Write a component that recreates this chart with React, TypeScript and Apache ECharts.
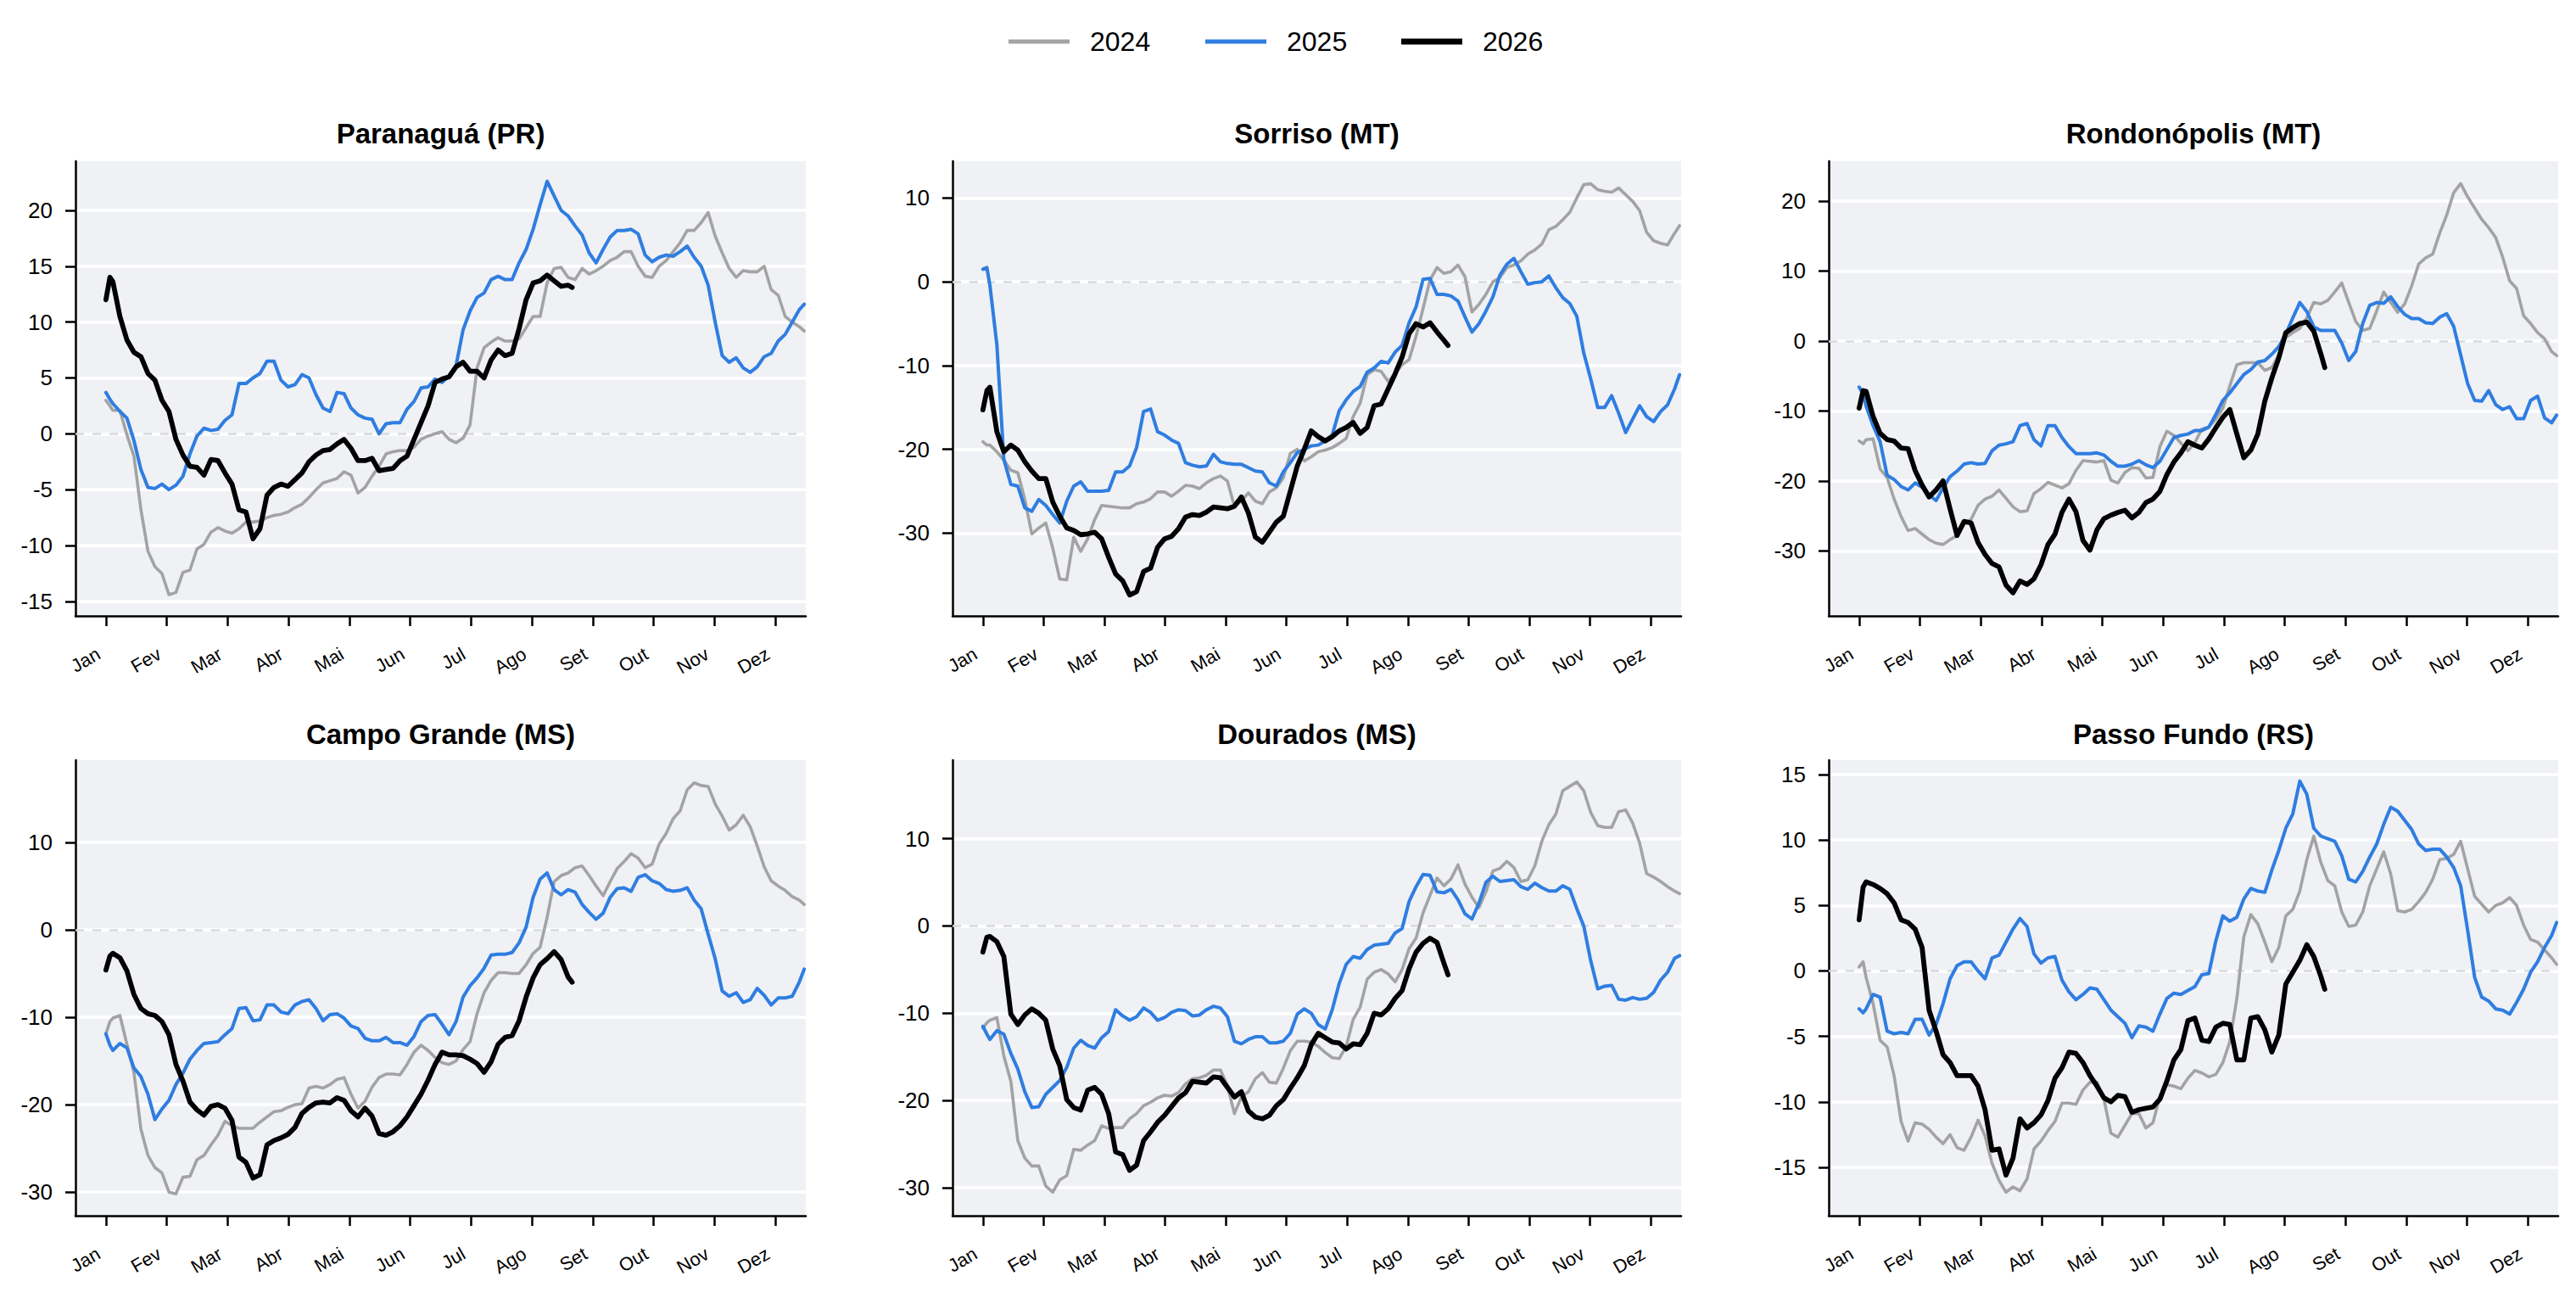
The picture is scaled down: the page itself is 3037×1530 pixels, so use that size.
import React, { useEffect, useRef } from "react";
import * as echarts from "echarts";

// ---------- DATA ----------
const MONTHS = ["Jan", "Fev", "Mar", "Abr", "Mai", "Jun", "Jul", "Ago", "Set", "Out", "Nov", "Dez"];
const LEGEND_NAMES = ["2024", "2025", "2026"];

const DAYS = [0, 2, 3.5, 7, 10.5, 14, 17.5, 21, 24.5, 28, 31.5, 35, 38.5, 42, 45.5, 49, 52.5, 56, 59.5, 63, 66.5, 70, 73.5, 77, 80.5, 84, 87.5, 91, 94.5, 98, 101.5, 105, 108.5, 112, 115.5, 119, 122.5, 126, 129.5, 133, 136.5, 140, 143.5, 147, 150.5, 154, 157.5, 161, 164.5, 168, 171.5, 175, 178.5, 182, 185.5, 189, 192.5, 196, 199.5, 203, 206.5, 210, 213.5, 217, 220.5, 224, 227.5, 231, 234.5, 238, 241.5, 245, 248.5, 252, 255.5, 259, 262.5, 266, 269.5, 273, 276.5, 280, 283.5, 287, 290.5, 294, 297.5, 301, 304.5, 308, 311.5, 315, 318.5, 322, 325.5, 329, 332.5, 336, 339.5, 343, 346.5, 349];
const DAYS_2026 = [0, 2, 3.5, 7, 10.5, 14, 17.5, 21, 24.5, 28, 31.5, 35, 38.5, 42, 45.5, 49, 52.5, 56, 59.5, 63, 66.5, 70, 73.5, 77, 80.5, 84, 87.5, 91, 94.5, 98, 101.5, 105, 108.5, 112, 115.5, 119, 122.5, 126, 129.5, 133, 136.5, 140, 143.5, 147, 150.5, 154, 157.5, 161, 164.5, 168, 171.5, 175, 178.5, 182, 185.5, 189, 192.5, 196, 199.5, 203, 206.5, 210, 213.5, 217, 220.5, 224, 227.5, 231, 233];

const TITLES = ["Paranaguá (PR)", "Sorriso (MT)", "Rondonópolis (MT)", "Campo Grande (MS)", "Dourados (MS)", "Passo Fundo (RS)"];

const Y_MIN = [-16.3, -39.9, -39.3, -32.7, -33.2, -18.7];
const Y_MAX = [24.4, 14.4, 25.7, 19.4, 19.0, 16.1];
const Y_STEP = [5, 10, 10, 10, 10, 5];
const Y_TICKS = [
  [-15, -10, -5, 0, 5, 10, 15, 20],
  [-30, -20, -10, 0, 10],
  [-30, -20, -10, 0, 10, 20],
  [-30, -20, -10, 0, 10],
  [-30, -20, -10, 0, 10],
  [-15, -10, -5, 0, 5, 10, 15],
];

const PARANAGUA_2024 = [
  3.0, 2.5, 2.1, 2.1, -0.1, -2.0, -6.8, -10.5, -11.9, -12.5,
  -14.4, -14.2, -12.4, -12.2, -10.3, -9.9, -8.8, -8.4, -8.7, -8.9,
  -8.5, -7.9, -7.9, -7.8, -7.5, -7.3, -7.2, -7.0, -6.6, -6.3,
  -5.7, -5.0, -4.4, -4.2, -4.0, -3.4, -3.7, -5.3, -4.8, -3.8,
  -2.9, -1.8, -1.6, -1.5, -1.5, -1.2, -0.5, -0.2, 0.0, 0.2,
  -0.5, -0.8, -0.4, 0.8, 5.9, 7.7, 8.2, 8.6, 8.3, 8.3,
  8.5, 9.5, 10.5, 10.5, 13.5, 14.8, 14.9, 14.0, 13.8, 14.8,
  14.3, 14.6, 15.0, 15.5, 15.8, 16.3, 16.3, 15.0, 14.1, 14.0,
  15.0, 15.5, 16.3, 17.1, 18.2, 18.2, 18.9, 19.8, 17.7, 16.2,
  14.8, 14.0, 14.6, 14.5, 14.5, 15.0, 12.9, 12.4, 10.5, 10.0,
  9.6, 9.2];
const PARANAGUA_2025 = [3.7, 3.1, 2.7, 2.0, 1.4, -0.6, -3.2, -4.8, -4.9, -4.5, -5.0, -4.6, -3.8, -1.8, -0.2, 0.5, 0.3, 0.4, 1.2, 1.7, 4.5, 4.5, 5.0, 5.4, 6.5, 6.5, 4.8, 4.2, 4.4, 5.3, 5.0, 3.5, 2.3, 2.0, 3.7, 3.6, 2.3, 1.7, 1.4, 1.3, 0.0, 0.9, 1.0, 1.0, 2.2, 2.9, 4.1, 4.2, 4.9, 4.6, 5.2, 6.1, 9.3, 11.0, 12.2, 12.6, 13.8, 14.1, 13.8, 13.8, 15.3, 16.5, 18.3, 20.5, 22.6, 21.3, 20.0, 19.5, 18.6, 17.8, 16.2, 15.3, 16.5, 17.6, 18.2, 18.2, 18.3, 17.9, 16.0, 15.4, 15.8, 16.0, 15.9, 16.3, 16.8, 15.8, 15.0, 13.3, 10.0, 7.0, 6.4, 6.8, 5.9, 5.5, 6.0, 6.9, 7.2, 8.3, 8.9, 10.0, 11.1, 11.6];
const PARANAGUA_2026 = [12.0, 14.0, 13.6, 10.5, 8.4, 7.3, 6.9, 5.4, 4.8, 3.0, 2.0, -0.5, -1.9, -2.9, -3.0, -3.7, -2.3, -2.4, -3.5, -4.5, -6.8, -7.0, -9.4, -8.5, -5.5, -4.8, -4.5, -4.7, -4.1, -3.5, -2.5, -1.9, -1.5, -1.4, -0.9, -0.5, -1.3, -2.4, -2.4, -2.2, -3.3, -3.2, -3.1, -2.4, -2.0, -0.5, 1.0, 2.5, 4.6, 4.9, 5.1, 6.0, 6.4, 5.6, 5.6, 5.0, 6.6, 7.5, 7.0, 7.2, 9.4, 12.0, 13.5, 13.7, 14.2, 13.7, 13.2, 13.3, 13.1];

const SORRISO_2024 = [
  -19.1, -19.5, -19.5, -20.3, -21.3, -22.5, -22.8, -26.0, -30.1, -29.4,
  -28.8, -31.8, -35.5, -35.6, -30.5, -32.2, -30.7, -28.4, -26.7, -26.8,
  -26.9, -27.0, -27.0, -26.5, -26.3, -25.9, -25.1, -25.1, -25.6, -25.0,
  -24.3, -24.4, -24.7, -24.0, -23.5, -23.2, -23.8, -26.8, -26.2, -25.2,
  -26.2, -26.5, -25.1, -24.6, -23.4, -20.5, -20.0, -21.4, -20.9, -20.3,
  -20.1, -19.8, -19.3, -18.7, -16.1, -14.5, -11.1, -10.5, -10.7, -11.9,
  -11.0, -9.9, -9.3, -6.5, -3.2, 0.2, 1.7, 1.0, 1.2, 2.0,
  0.6, -3.6, -2.7, -1.5, 0.0, 0.5, 1.7, 2.0, 2.5, 3.3,
  3.8, 4.5, 6.2, 6.6, 7.4, 8.3, 10.0, 11.6, 11.7, 11.0,
  10.8, 10.7, 11.2, 10.4, 9.6, 8.5, 5.9, 4.9, 4.6, 4.4,
  5.8, 6.7];
const SORRISO_2025 = [1.5, 1.7, -0.4, -7.5, -21.2, -24.2, -24.4, -27.0, -27.4, -26.0, -26.7, -27.8, -28.8, -26.2, -24.4, -23.9, -25.0, -25.0, -25.0, -24.9, -22.7, -22.7, -22.0, -19.8, -15.5, -15.2, -17.9, -18.3, -18.9, -19.3, -21.6, -21.9, -22.1, -22.0, -20.6, -21.5, -21.7, -21.8, -21.8, -22.2, -22.6, -22.7, -24.0, -24.4, -22.7, -21.6, -20.4, -20.0, -19.6, -19.5, -19.0, -18.3, -15.4, -14.1, -13.1, -12.5, -10.8, -10.3, -9.5, -9.7, -8.4, -7.6, -4.9, -3.0, 0.3, 0.4, -1.5, -1.5, -1.7, -2.3, -4.2, -6.0, -5.0, -3.5, -1.8, 0.8, 2.1, 2.8, 1.2, -0.3, -0.1, 0.0, 0.7, -0.7, -1.9, -2.6, -4.1, -8.5, -11.6, -15.0, -15.0, -13.6, -15.7, -18.0, -16.4, -14.8, -16.1, -16.7, -15.5, -14.7, -12.8, -11.1];
const SORRISO_2026 = [-15.3, -13.0, -12.6, -17.9, -20.3, -19.5, -20.1, -21.5, -22.6, -23.5, -23.5, -26.3, -28.0, -29.4, -29.7, -30.2, -30.1, -29.9, -30.7, -32.9, -34.9, -35.7, -37.4, -37.0, -34.6, -34.2, -31.7, -30.7, -30.4, -29.5, -28.1, -27.8, -27.9, -27.5, -26.9, -27.0, -27.1, -26.8, -25.7, -27.6, -30.5, -31.1, -29.9, -28.7, -28.0, -25.0, -22.0, -20.0, -17.8, -18.5, -19.0, -18.5, -17.8, -17.4, -16.8, -18.1, -17.4, -14.8, -14.6, -12.8, -11.0, -9.0, -6.2, -5.0, -5.4, -4.9, -6.0, -7.0, -7.6];

const RONDONOPOLIS_2024 = [
  -14.3, -14.7, -14.1, -14.0, -18.3, -19.5, -22.6, -25.1, -27.1, -26.8,
  -27.6, -28.4, -28.9, -29.1, -28.4, -27.8, -26.2, -25.5, -23.5, -22.6,
  -22.2, -21.3, -22.5, -23.7, -24.4, -24.3, -21.8, -21.1, -20.2, -20.6,
  -21.0, -20.4, -18.5, -17.1, -17.2, -17.3, -17.1, -19.9, -20.3, -18.8,
  -18.1, -18.2, -19.6, -19.5, -15.1, -12.9, -13.5, -14.6, -15.7, -14.5,
  -12.6, -12.3, -11.2, -9.6, -6.4, -3.4, -3.1, -3.1, -3.1, -4.2,
  -3.8, -2.0, 0.5, 1.2, 1.8, 3.3, 5.5, 5.3, 5.8, 7.0,
  8.3, 5.5, 2.8, 1.5, 1.8, 4.3, 7.0, 5.5, 4.1, 5.3,
  7.9, 11.0, 11.9, 12.4, 15.4, 18.0, 21.2, 22.5, 20.6, 19.0,
  17.4, 16.2, 14.8, 12.0, 8.6, 7.5, 3.6, 2.5, 1.2, 0.3,
  -1.5, -2.1];
const RONDONOPOLIS_2025 = [-6.6, -7.6, -9.3, -12.1, -14.4, -19.2, -19.8, -20.8, -21.3, -20.3, -20.9, -22.0, -22.8, -21.0, -19.4, -18.6, -17.6, -17.4, -17.6, -17.5, -15.7, -14.9, -14.7, -14.4, -12.1, -11.8, -14.1, -15.0, -12.1, -12.1, -13.8, -15.1, -16.1, -16.1, -16.1, -16.0, -16.3, -17.2, -17.9, -17.9, -17.6, -17.1, -17.7, -18.1, -17.2, -15.5, -13.8, -13.5, -13.3, -12.8, -12.8, -12.3, -10.5, -8.5, -7.4, -6.1, -4.8, -4.1, -3.0, -2.8, -1.9, -0.8, 1.0, 3.3, 5.5, 4.2, 2.0, 1.5, 1.5, 1.5, -0.3, -2.8, -1.5, 2.5, 5.1, 5.5, 5.4, 6.3, 4.9, 3.8, 3.2, 3.2, 2.6, 2.5, 3.4, 3.9, 2.1, -2.0, -6.1, -8.5, -8.6, -7.1, -9.1, -9.8, -9.4, -11.1, -11.1, -8.5, -7.9, -11.0, -11.7, -10.6];
const RONDONOPOLIS_2026 = [-9.6, -7.1, -7.2, -10.8, -13.2, -14.1, -14.3, -15.3, -15.4, -18.5, -20.6, -22.3, -21.3, -20.0, -24.0, -27.8, -25.8, -26.0, -28.8, -30.5, -31.8, -32.3, -34.9, -36.0, -34.3, -34.8, -34.0, -32.0, -29.1, -27.6, -24.5, -22.6, -24.4, -28.5, -29.9, -27.0, -25.4, -24.9, -24.5, -24.2, -25.3, -24.5, -23.1, -22.6, -21.5, -19.1, -17.3, -16.0, -14.4, -14.9, -15.3, -14.0, -12.4, -10.9, -9.8, -13.3, -16.7, -15.6, -13.3, -8.6, -5.3, -2.4, 1.2, 1.9, 2.5, 2.7, 1.4, -1.8, -3.8];

const CAMPO_GRANDE_2024 = [
  -11.9, -10.5, -10.1, -9.8, -13.1, -16.3, -22.8, -25.8, -27.2, -27.8,
  -30.0, -30.2, -28.3, -28.2, -26.3, -25.8, -24.6, -23.5, -21.9, -22.4,
  -22.7, -22.7, -22.7, -22.0, -21.4, -20.8, -20.7, -20.3, -20.0, -19.9,
  -18.1, -17.9, -18.1, -17.7, -17.1, -16.9, -18.8, -20.4, -19.6, -18.0,
  -16.9, -16.5, -16.5, -16.6, -15.4, -14.0, -13.2, -13.8, -14.6, -15.2,
  -15.4, -15.0, -13.7, -12.8, -9.6, -7.2, -5.8, -4.9, -4.9, -5.0,
  -5.0, -4.0, -2.7, -2.0, 1.4, 5.5, 6.2, 6.5, 7.1, 7.3,
  6.2, 5.0, 3.9, 5.5, 7.0, 7.8, 8.7, 8.2, 7.1, 7.5,
  9.8, 11.0, 12.7, 13.6, 16.0, 16.8, 16.5, 16.4, 14.4, 13.0,
  11.4, 12.0, 13.1, 11.8, 9.6, 7.2, 5.6, 5.0, 4.5, 3.8,
  3.4, 2.9];
const CAMPO_GRANDE_2025 = [-11.9, -13.2, -13.8, -13.0, -13.5, -15.8, -16.8, -18.8, -21.7, -20.5, -19.5, -17.7, -16.4, -14.8, -13.8, -13.0, -12.9, -12.8, -12.0, -11.3, -9.0, -8.9, -10.4, -10.3, -8.6, -8.6, -9.4, -9.6, -8.6, -8.2, -8.0, -9.0, -10.4, -9.7, -9.6, -10.1, -11.0, -11.3, -12.4, -12.7, -12.7, -12.3, -12.9, -12.9, -13.2, -12.2, -10.5, -9.8, -9.7, -10.8, -12.0, -10.5, -7.7, -6.4, -5.5, -4.4, -2.9, -2.8, -2.8, -2.6, -1.5, 0.3, 3.7, 5.8, 6.5, 4.6, 4.0, 4.6, 4.3, 2.9, 2.0, 1.2, 1.9, 3.7, 4.7, 4.8, 4.4, 6.0, 6.3, 5.6, 5.3, 4.6, 4.4, 4.5, 4.8, 3.4, 2.4, -0.5, -3.3, -7.0, -7.6, -7.2, -8.3, -8.0, -6.7, -7.5, -8.6, -7.8, -7.8, -7.6, -6.0, -4.5];
const CAMPO_GRANDE_2026 = [-4.6, -3.0, -2.7, -3.2, -4.7, -7.4, -9.0, -9.6, -9.8, -10.5, -12.0, -15.4, -17.3, -19.7, -20.6, -21.2, -20.2, -20.0, -20.4, -21.8, -26.0, -26.6, -28.4, -28.0, -24.6, -24.1, -23.8, -23.4, -22.6, -21.0, -20.3, -19.8, -19.7, -19.8, -19.2, -19.5, -20.7, -21.4, -20.4, -21.3, -23.3, -23.5, -23.1, -22.4, -21.4, -20.1, -18.8, -17.2, -15.4, -14.0, -14.3, -14.3, -14.4, -14.8, -15.3, -16.3, -15.1, -13.1, -12.3, -12.1, -10.4, -7.7, -5.5, -4.0, -3.3, -2.5, -3.4, -5.4, -6.0];

const DOURADOS_2024 = [
  -11.7, -11.1, -10.8, -10.5, -14.9, -17.8, -24.6, -26.6, -27.5, -27.5,
  -29.8, -30.5, -29.1, -28.6, -25.6, -25.7, -25.1, -24.6, -22.9, -23.2,
  -23.1, -23.1, -22.1, -21.5, -20.6, -20.2, -19.7, -19.4, -19.5, -19.1,
  -18.1, -17.5, -17.4, -17.1, -16.5, -16.5, -18.3, -21.5, -19.6, -19.0,
  -17.5, -16.8, -17.9, -18.0, -16.3, -14.3, -13.2, -13.2, -13.3, -13.8,
  -14.5, -15.1, -15.2, -13.8, -10.7, -9.3, -6.1, -5.3, -5.0, -5.5,
  -6.4, -5.0, -2.6, -1.4, 1.5, 3.5, 5.5, 4.6, 5.4, 7.0,
  4.8, 3.3, 2.1, 3.9, 6.3, 6.6, 7.4, 6.7, 5.1, 5.3,
  6.9, 9.7, 11.6, 12.8, 15.5, 16.0, 16.5, 15.5, 13.0, 11.5,
  11.3, 11.3, 13.1, 13.3, 11.8, 9.5, 6.0, 5.6, 5.1, 4.5,
  4.0, 3.7];
const DOURADOS_2025 = [-11.5, -12.4, -13.0, -12.0, -12.4, -14.6, -16.4, -19.0, -20.8, -20.7, -19.3, -18.5, -17.7, -16.2, -14.0, -13.1, -13.7, -14.0, -12.8, -12.1, -9.6, -10.3, -10.8, -10.4, -9.4, -9.9, -10.8, -10.5, -9.9, -9.6, -9.7, -10.3, -10.2, -9.6, -9.2, -9.4, -10.4, -13.2, -13.5, -13.0, -12.7, -12.7, -13.4, -13.4, -13.2, -12.3, -10.1, -9.5, -10.0, -11.3, -11.8, -9.6, -6.6, -4.4, -3.5, -3.7, -2.7, -2.2, -2.1, -2.0, -0.8, -0.3, 2.8, 4.5, 5.9, 5.8, 3.9, 3.8, 4.2, 3.0, 1.4, 0.8, 2.6, 5.0, 5.7, 5.1, 5.2, 5.3, 4.5, 4.2, 4.9, 4.4, 4.0, 4.0, 4.6, 4.2, 2.0, 0.0, -4.0, -7.2, -6.9, -6.8, -8.4, -8.5, -8.2, -8.4, -8.3, -7.6, -6.2, -5.3, -3.7, -3.4];
const DOURADOS_2026 = [-3.0, -1.3, -1.2, -1.8, -3.5, -10.1, -11.3, -10.2, -9.5, -10.0, -10.8, -14.1, -16.0, -19.9, -20.8, -21.1, -18.8, -18.5, -19.3, -21.5, -25.9, -26.2, -28.0, -27.4, -24.6, -23.6, -22.5, -21.7, -20.7, -19.7, -19.1, -17.8, -17.9, -18.0, -17.3, -17.4, -18.5, -19.6, -19.0, -21.2, -21.9, -22.1, -21.7, -20.6, -19.9, -18.6, -17.4, -16.0, -13.6, -12.3, -12.8, -13.3, -13.4, -14.1, -13.5, -13.6, -12.3, -10.0, -10.2, -9.5, -8.3, -7.4, -4.9, -3.0, -2.0, -1.4, -1.9, -4.3, -5.6];

const PASSO_FUNDO_2024 = [
  0.3, 0.7, -0.5, -2.5, -5.3, -5.8, -8.0, -11.5, -13.0, -11.6,
  -11.7, -12.1, -12.7, -13.2, -12.5, -13.5, -13.7, -12.7, -11.4, -12.6,
  -14.7, -16.0, -16.9, -16.5, -16.8, -15.9, -13.6, -13.0, -12.2, -11.5,
  -10.1, -10.1, -10.2, -9.1, -8.5, -8.5, -9.8, -12.4, -12.7, -11.8,
  -10.9, -10.9, -12.0, -11.6, -9.6, -8.7, -8.8, -9.0, -8.2, -7.6,
  -7.8, -8.1, -7.9, -7.0, -5.4, -2.1, 2.6, 4.3, 3.6, 2.2,
  0.7, 1.8, 4.2, 4.7, 6.1, 8.5, 10.3, 8.3, 6.9, 6.5,
  4.5, 3.4, 3.5, 4.5, 6.5, 7.8, 9.1, 7.4, 4.6, 4.5,
  4.7, 5.3, 6.0, 7.0, 8.5, 8.6, 8.9, 9.9, 7.8, 5.7,
  5.1, 4.5, 5.0, 5.2, 5.6, 5.0, 3.5, 2.4, 2.2, 1.6,
  1.0, 0.5];
const PASSO_FUNDO_2025 = [-2.9, -3.2, -2.9, -1.8, -2.0, -4.6, -4.8, -4.7, -4.8, -3.7, -3.7, -4.9, -4.1, -2.5, -0.6, 0.4, 0.7, 0.7, 0.0, -0.6, 1.0, 1.2, 2.2, 3.2, 4.0, 3.4, 1.3, 0.6, 1.0, 1.1, -0.7, -1.6, -2.2, -1.8, -1.3, -1.4, -2.2, -3.0, -3.5, -4.0, -5.1, -4.2, -4.3, -4.6, -3.3, -2.1, -1.7, -1.8, -1.5, -1.2, -0.3, -0.2, 2.3, 4.2, 3.8, 4.1, 5.5, 6.3, 6.1, 6.0, 7.7, 9.2, 10.9, 12.0, 14.5, 13.5, 10.9, 10.3, 10.1, 9.9, 8.8, 7.0, 6.8, 7.6, 8.7, 9.7, 11.2, 12.5, 12.2, 11.5, 10.8, 9.7, 9.2, 9.3, 9.3, 8.7, 7.9, 6.5, 3.1, -0.5, -2.0, -2.3, -2.9, -3.0, -3.3, -2.4, -1.4, -0.1, 0.7, 1.8, 2.7, 3.7];
const PASSO_FUNDO_2026 = [3.9, 6.4, 6.8, 6.6, 6.3, 5.9, 5.2, 3.9, 3.7, 3.2, 1.8, -3.0, -4.6, -6.4, -7.0, -8.0, -8.0, -8.0, -8.8, -10.6, -13.7, -13.6, -15.6, -14.3, -11.3, -12.0, -11.6, -11.0, -9.9, -8.2, -7.4, -6.2, -6.3, -7.0, -8.0, -8.8, -9.7, -10.0, -9.5, -9.6, -10.8, -10.6, -10.5, -10.4, -9.8, -8.4, -6.8, -6.0, -3.8, -3.6, -5.3, -5.4, -4.3, -4.0, -4.1, -6.8, -6.8, -3.6, -3.5, -4.5, -6.2, -4.9, -1.0, -0.1, 0.8, 2.0, 1.1, -0.4, -1.4];

const SERIES_2024 = [PARANAGUA_2024, SORRISO_2024, RONDONOPOLIS_2024, CAMPO_GRANDE_2024, DOURADOS_2024, PASSO_FUNDO_2024];
const SERIES_2025 = [PARANAGUA_2025, SORRISO_2025, RONDONOPOLIS_2025, CAMPO_GRANDE_2025, DOURADOS_2025, PASSO_FUNDO_2025];
const SERIES_2026 = [PARANAGUA_2026, SORRISO_2026, RONDONOPOLIS_2026, CAMPO_GRANDE_2026, DOURADOS_2026, PASSO_FUNDO_2026];

// ---------- STYLE / LAYOUT ----------
const FONT = '"Liberation Sans", Arial, Helvetica, sans-serif';
const GRAY = "#a3a3a3";
const BLUE = "#2f7de1";
const BLACK = "#000000";
const BG = "#eff1f5";
const COLORS = [GRAY, BLUE, BLACK];
const WIDTHS = [3.6, 4, 5.8];
const LEGEND_WIDTHS = [5, 5, 7];
const LEGEND_LINE_X = [1189, 1421, 1652];
const LEGEND_LINE_LEN = 72;
const LEGEND_TEXT_GAP = 24;
const LEGEND_Y = 49;
const COL_LEFT = [89, 1123, 2156];
const COL_WIDTH = [861, 859, 860];
const ROW_TOP = [190, 896];
const ROW_HEIGHT = [536, 537];
const TITLE_Y = [157, 865];
const MONTH_LEN = 365 / 12;
const MONTH_TICKS = MONTHS.map((_, i) => i * MONTH_LEN);

function buildOption() {
  const grid: any[] = [];
  const xAxis: any[] = [];
  const yAxis: any[] = [];
  const series: any[] = [];
  const graphic: any[] = [];

  for (let p = 0; p < 6; p++) {
    const r = Math.floor(p / 3);
    const c = p % 3;
    grid.push({
      left: COL_LEFT[c],
      top: ROW_TOP[r],
      width: COL_WIDTH[c],
      height: ROW_HEIGHT[r],
      show: true,
      backgroundColor: BG,
      borderWidth: 0,
      containLabel: false,
    });
    xAxis.push({
      type: "value",
      gridIndex: p,
      min: -0.5 * MONTH_LEN,
      max: 11.5 * MONTH_LEN,
      axisLine: { show: true, onZero: false, lineStyle: { color: "#000", width: 2.5 } },
      axisTick: { show: true, customValues: MONTH_TICKS, length: 12, lineStyle: { color: "#000", width: 2.5 } },
      axisLabel: {
        show: true,
        customValues: MONTH_TICKS,
        formatter: (v: number) => MONTHS[Math.round(v / MONTH_LEN)] ?? "",
        rotate: 30,
        margin: 38,
        padding: [0, 10, 0, 0],
        fontSize: 22,
        color: "#000",
        fontFamily: FONT,
      },
      splitLine: { show: false },
    });
    yAxis.push({
      type: "value",
      gridIndex: p,
      min: Y_MIN[p],
      max: Y_MAX[p],
      minInterval: Y_STEP[p],
      maxInterval: Y_STEP[p],
      axisLine: { show: true, onZero: false, lineStyle: { color: "#000", width: 2.5 } },
      axisTick: { show: true, customValues: Y_TICKS[p], length: 12, lineStyle: { color: "#000", width: 2.5 } },
      axisLabel: {
        show: true,
        customValues: Y_TICKS[p],
        margin: 27,
        fontSize: 26,
        color: "#000",
        fontFamily: FONT,
      },
      splitLine: { show: true, lineStyle: { color: "#ffffff", width: 3.5 } },
    });

    const allData = [
      DAYS.map((d, i) => [d, SERIES_2024[p][i]]),
      DAYS.map((d, i) => [d, SERIES_2025[p][i]]),
      DAYS_2026.map((d, i) => [d, SERIES_2026[p][i]]),
    ];
    for (let s = 0; s < 3; s++) {
      const item: any = {
        name: LEGEND_NAMES[s],
        type: "line",
        xAxisIndex: p,
        yAxisIndex: p,
        data: allData[s],
        showSymbol: false,
        symbol: "none",
        lineStyle: { color: COLORS[s], width: WIDTHS[s], join: "round", cap: "round" },
        itemStyle: { color: COLORS[s] },
        z: 2 + s,
      };
      if (s === 0) {
        item.markLine = {
          silent: true,
          symbol: "none",
          z: 1,
          label: { show: false },
          lineStyle: { color: "#d8d9dd", type: [10, 10], width: 2.5 },
          data: [{ yAxis: 0 }],
        };
      }
      series.push(item);
    }

    graphic.push({
      type: "text",
      x: COL_LEFT[c] + COL_WIDTH[c] / 2,
      y: TITLE_Y[r],
      silent: true,
      style: {
        text: TITLES[p],
        font: `bold 33px ${FONT}`,
        fill: "#000",
        align: "center",
        verticalAlign: "middle",
        textAlign: "center",
        textVerticalAlign: "middle",
      },
    });
  }

  // legend drawn as graphic (line swatch + label)
  for (let s = 0; s < 3; s++) {
    graphic.push({
      type: "line",
      silent: true,
      shape: { x1: LEGEND_LINE_X[s], y1: LEGEND_Y, x2: LEGEND_LINE_X[s] + LEGEND_LINE_LEN, y2: LEGEND_Y },
      style: { stroke: COLORS[s], lineWidth: LEGEND_WIDTHS[s] },
    });
    graphic.push({
      type: "text",
      silent: true,
      x: LEGEND_LINE_X[s] + LEGEND_LINE_LEN + LEGEND_TEXT_GAP,
      y: LEGEND_Y,
      style: {
        text: LEGEND_NAMES[s],
        font: `32px ${FONT}`,
        fill: "#000",
        align: "left",
        verticalAlign: "middle",
        textAlign: "left",
        textVerticalAlign: "middle",
      },
    });
  }

  return {
    animation: false,
    backgroundColor: "#ffffff",
    textStyle: { fontFamily: FONT },
    grid,
    xAxis,
    yAxis,
    series,
    graphic,
  };
}

export default function App() {
  const ref = useRef<HTMLDivElement>(null);
  useEffect(() => {
    document.body.style.margin = "0";
    const chart = echarts.init(ref.current as HTMLDivElement, null, { renderer: "svg" });
    chart.setOption(buildOption() as any);
    return () => {
      chart.dispose();
    };
  }, []);
  return <div ref={ref} style={{ width: 3037, height: 1530 }} />;
}
